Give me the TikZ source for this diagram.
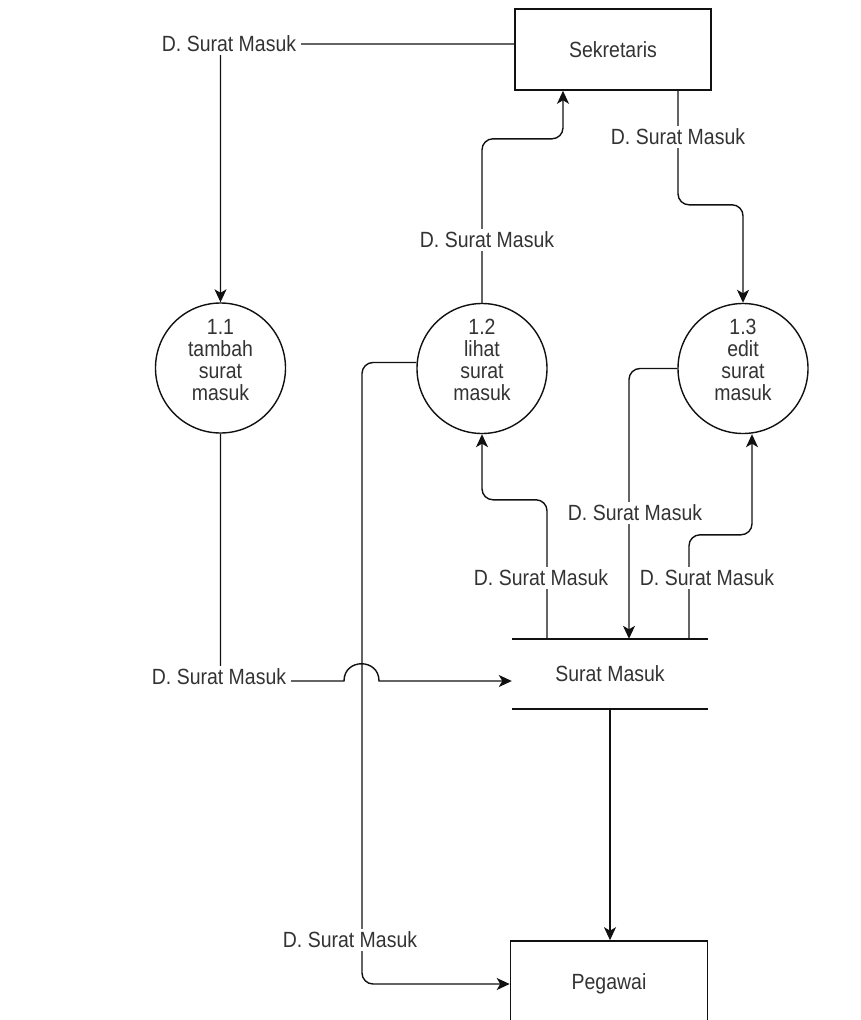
\documentclass[tikz,border=0pt]{standalone}
\usepackage{fontspec}
\newfontfamily\dfont[FakeStretch=0.885]{Liberation Sans}
\usetikzlibrary{arrows.meta,calc}
\definecolor{txt}{HTML}{333333}
\definecolor{ln}{HTML}{111111}
\begin{document}
\begin{tikzpicture}[x=1pt,y=-1pt,
  every node/.style={font=\dfont\fontsize{22}{22}\selectfont, text=txt},
  extbox/.style={draw=ln, line width=1.6pt, minimum width=196pt, minimum height=81pt, inner sep=0pt},
  proc/.style={draw=ln, line width=1.4pt, circle, minimum size=130pt, inner sep=0pt},
  ptext/.style={align=center, inner sep=0pt},
  storebox/.style={minimum width=196pt, minimum height=70pt, inner sep=0pt},
  flow/.style={draw=ln, line width=1.4pt, rounded corners=11pt},
  arr/.style={-{Stealth[length=13pt,width=12pt,inset=3.5pt]}},
  lab/.style={fill=white, inner xsep=5pt, inner ysep=3pt},
]
\useasboundingbox (0,0) rectangle (860,1020);
\fill[white] (0,0) rectangle (860,1020);

% external entities
\node[extbox] (sek) at (613,49.5) {Sekretaris};
\node[extbox, minimum width=197pt, minimum height=86pt] (peg) at (609,984) {Pegawai};

% processes
\node[proc] (p1) at (220.5,368) {};
\node[proc] (p2) at (482,368.5) {};
\node[proc] (p3) at (743,368.5) {};
\node[ptext] (t1) at (220.5,360) {1.1\\tambah\\surat\\masuk};
\node[ptext] (t2) at (482,360) {1.2\\lihat\\surat\\masuk};
\node[ptext] (t3) at (743,360) {1.3\\edit\\surat\\masuk};

% data store
\node[storebox] (st) at (610,674) {Surat Masuk};
\draw[ln, line width=1.6pt] (st.north west) -- (st.north east) (st.south west) -- (st.south east);

% flows
\draw[flow,arr] ([yshift=5.5pt]sek.west) -| (p1.north);
\draw[flow,arr] (p2.north) -- ++(0,-164) -| ([xshift=-50pt]sek.south);
\draw[flow,arr] ([xshift=65pt]sek.south) -- ++(0,114) -| (p3.north);
\draw[flow,arr,sharp corners] (p1.south) |- (344,681) .. controls (344,658) and (379,658) .. (379,681) -- ([yshift=-7pt]st.west);
\draw[flow,arr] ([yshift=6pt]p2.west) -| (362,984) -- (peg.west);
\draw[flow,arr] (p3.west) -| ([xshift=19pt]st.north);
\draw[flow,arr] ([xshift=-63pt]st.north) -- ++(0,-139) -| (p2.south);
\draw[flow,arr] ([xshift=79pt]st.north) -- ++(0,-104) -| ([xshift=9pt]p3.south);
\draw[flow,arr] (st.south) -- (st.south |- peg.north);

% flow labels
\node[lab] (l1) at (229,44) {D. Surat Masuk};
\node[lab] (l2) at (487,240) {D. Surat Masuk};
\node[lab] (l3) at (678,137) {D. Surat Masuk};
\node[lab] (l4) at (219,677) {D. Surat Masuk};
\node[lab] (l5) at (350,940) {D. Surat Masuk};
\node[lab] (l6) at (635,513) {D. Surat Masuk};
\node[lab] (l7) at (541,578) {D. Surat Masuk};
\node[lab] (l8) at (707,578) {D. Surat Masuk};
\end{tikzpicture}
\end{document}
